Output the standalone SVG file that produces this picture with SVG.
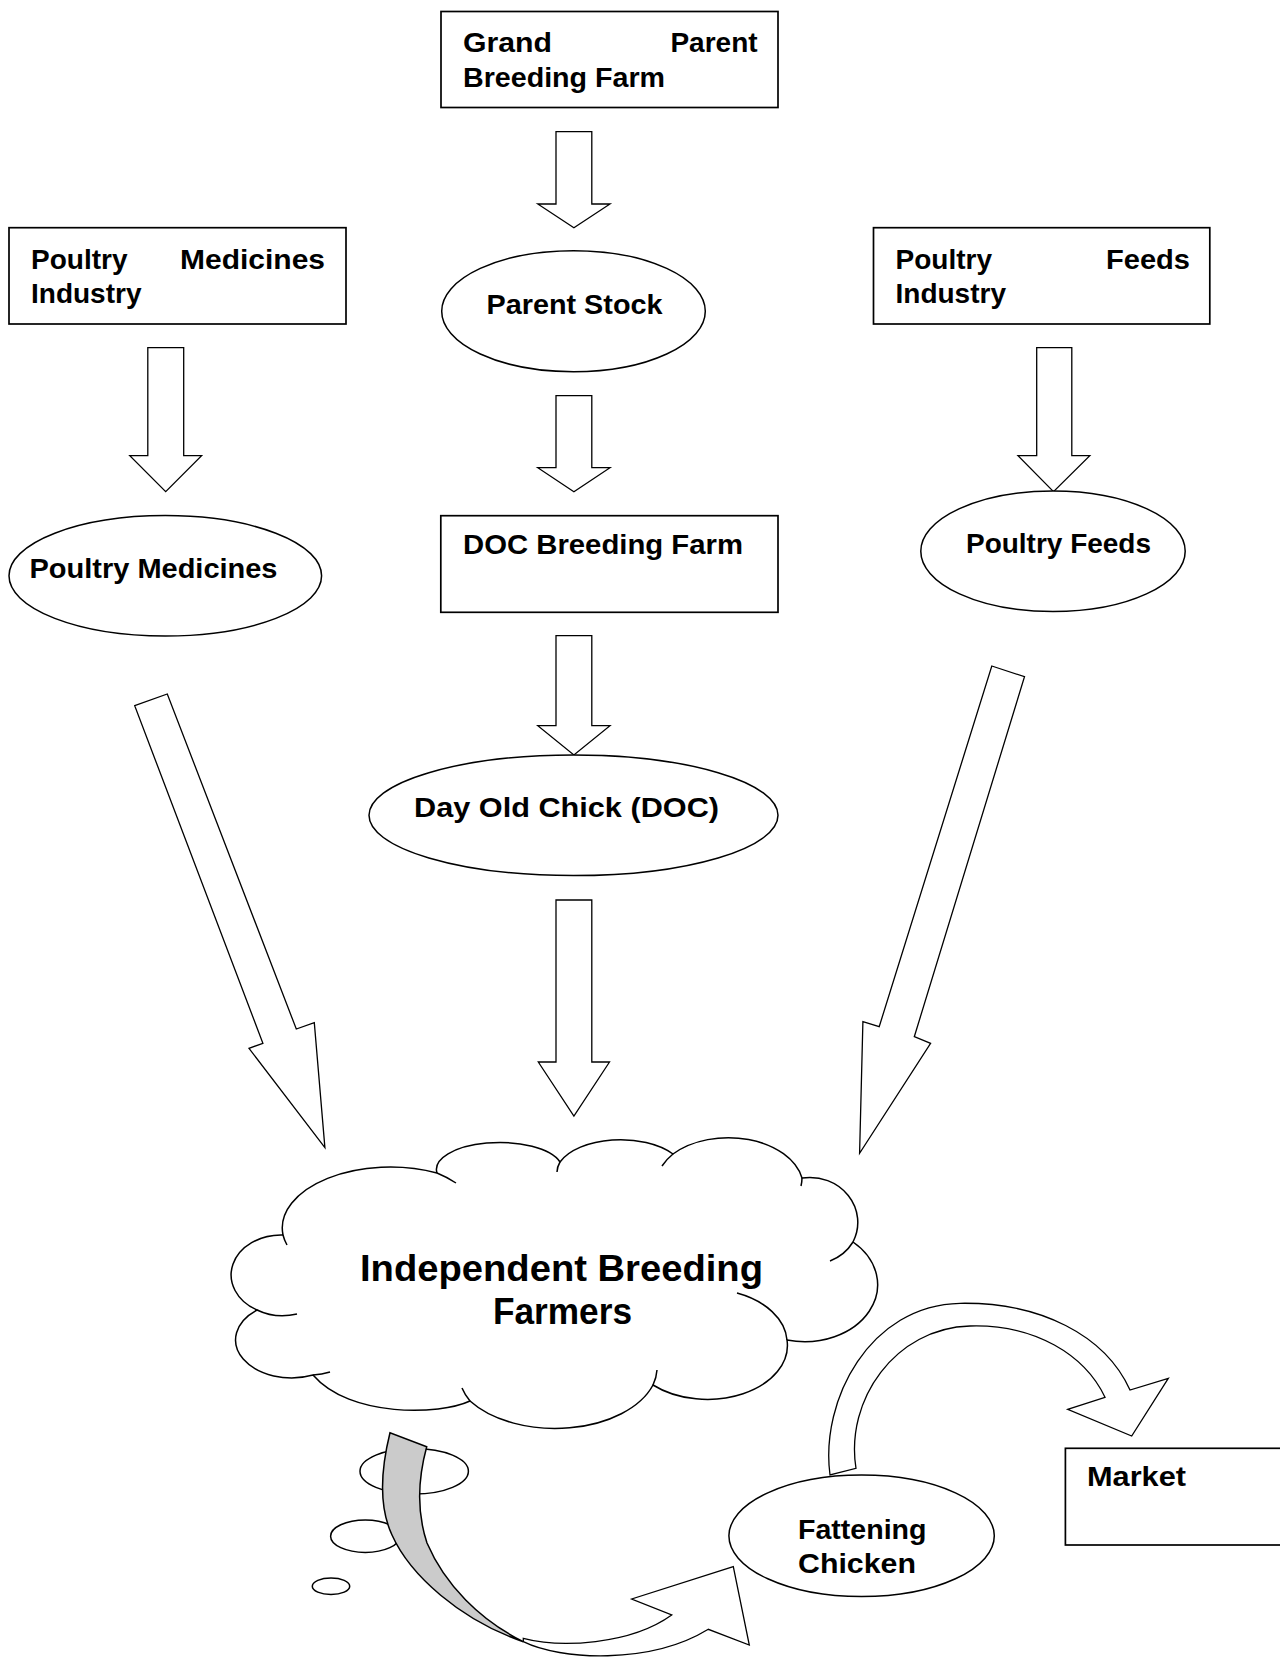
<svg xmlns="http://www.w3.org/2000/svg" width="1280" height="1659" viewBox="0 0 1280 1659">
<style>
.box{fill:#fff;stroke:#000;stroke-width:1.7}
.ell{fill:#fff;stroke:#000;stroke-width:1.5}
.arr{fill:#fff;stroke:#000;stroke-width:1.3;stroke-linejoin:miter}
.crease{fill:none;stroke:#000;stroke-width:1.5}
.t{font-family:"Liberation Sans",Arial,sans-serif;font-weight:bold;font-size:28px;fill:#000}
.tl{font-size:37px}
</style>
<rect width="1280" height="1659" fill="#fff"/>

<g id="connectors">
  <polygon class="arr" points="556,131.7 591.8,131.7 591.8,204 610,204 573.9,227.7 537.8,204 556,204"/>
  <polygon class="arr" points="147.8,347.7 183.7,347.7 183.7,455.7 201.6,455.7 165.7,491.7 129.8,455.7 147.8,455.7"/>
  <polygon class="arr" points="556,395.7 591.8,395.7 591.8,467.7 610,467.7 573.9,491.7 537.8,467.7 556,467.7"/>
  <polygon class="arr" points="1036.7,347.7 1071.8,347.7 1071.8,455.7 1089.8,455.7 1053.5,491.7 1018,455.7 1036.7,455.7"/>
  <polygon class="arr" points="556,635.7 591.8,635.7 591.8,725.7 610,725.7 573.9,755 537.8,725.7 556,725.7"/>
  <polygon class="arr" points="556,900 591.8,900 591.8,1062 609.5,1062 573.9,1116 538.3,1062 556,1062"/>
  <polygon class="arr" points="134.7,705.7 167.3,694 296.3,1029 314.3,1022.7 324.9,1147.7 249,1048.3 262.9,1043.3"/>
  <polygon class="arr" points="991.8,666 1024.5,676.7 914.3,1036.7 930.6,1043.3 859.6,1153.3 862.9,1021.7 879.2,1026.7"/>
  <path class="arr" d="M 830 1475 C 820 1400, 870 1305, 960 1303.3 C 1040 1302, 1105 1335, 1130 1390 L 1168.3 1378.3 L 1131.7 1436 L 1067.7 1409.3 L 1105 1397.3 C 1085 1355, 1035 1324, 970 1326 C 895 1328, 845 1400, 856 1468.3 Z"/>
</g>

<g id="node-grandparent">
  <rect class="box" x="441" y="11.5" width="337" height="96"/>
  <text class="t" x="463" y="52" textLength="89" lengthAdjust="spacingAndGlyphs">Grand</text>
  <text class="t" x="757.6" y="52" text-anchor="end">Parent</text>
  <text class="t" x="463" y="87" textLength="202" lengthAdjust="spacingAndGlyphs">Breeding Farm</text>
</g>

<g id="node-medicines-industry">
  <rect class="box" x="9" y="227.7" width="337" height="96.3"/>
  <text class="t" x="31" y="268.5">Poultry</text>
  <text class="t" x="180" y="268.5" textLength="145" lengthAdjust="spacingAndGlyphs">Medicines</text>
  <text class="t" x="31" y="302.5">Industry</text>
</g>

<g id="node-feeds-industry">
  <rect class="box" x="873.5" y="227.7" width="336.3" height="96.3"/>
  <text class="t" x="895.5" y="268.5">Poultry</text>
  <text class="t" x="1106" y="268.5" textLength="84" lengthAdjust="spacingAndGlyphs">Feeds</text>
  <text class="t" x="895.5" y="302.5">Industry</text>
</g>

<g id="node-parent-stock">
  <ellipse class="ell" cx="573.5" cy="311.2" rx="131.8" ry="60.5"/>
  <text class="t" x="486.5" y="314" textLength="176" lengthAdjust="spacingAndGlyphs">Parent Stock</text>
</g>

<g id="node-poultry-medicines">
  <ellipse class="ell" cx="165.3" cy="575.8" rx="156.3" ry="60.2"/>
  <text class="t" x="29.5" y="578" textLength="248" lengthAdjust="spacingAndGlyphs">Poultry Medicines</text>
</g>

<g id="node-doc-farm">
  <rect class="box" x="440.8" y="515.7" width="337.2" height="96.6"/>
  <text class="t" x="463" y="554" textLength="280" lengthAdjust="spacingAndGlyphs">DOC Breeding Farm</text>
</g>

<g id="node-poultry-feeds">
  <ellipse class="ell" cx="1053" cy="551.3" rx="132.2" ry="60.3"/>
  <text class="t" x="966" y="553" textLength="185" lengthAdjust="spacingAndGlyphs">Poultry Feeds</text>
</g>

<g id="node-doc">
  <ellipse class="ell" cx="573.5" cy="815.3" rx="204.5" ry="60.3"/>
  <text class="t" x="414" y="817" textLength="305" lengthAdjust="spacingAndGlyphs">Day Old Chick (DOC)</text>
</g>

<g id="node-farmers">
  <path class="ell" d="M 283 1235 A 108 61 0 0 1 437 1173 A 63 27 0 0 1 560 1162 A 65 35 0 0 1 673 1154 A 75 50 0 0 1 802 1178 A 48 45 0 0 1 853 1242 A 73 57 0 0 1 787 1340 A 80 54 0 0 1 653 1385 A 103 63 0 0 1 470 1401 C 440 1415, 350 1418, 313 1375 A 56 38 0 0 1 257 1310 A 50 40 0 0 1 283 1235 Z"/>
  <path class="crease" d="M 437 1173 A 108 61 0 0 1 456 1183"/>
  <path class="crease" d="M 287 1245 A 108 61 0 0 1 283 1235"/>
  <path class="crease" d="M 557 1172 A 65 35 0 0 1 560 1162"/>
  <path class="crease" d="M 662 1166 A 75 50 0 0 1 673 1154"/>
  <path class="crease" d="M 802 1178 A 75 50 0 0 1 801 1186"/>
  <path class="crease" d="M 853 1242 A 48 45 0 0 1 830 1261"/>
  <path class="crease" d="M 737 1293 A 80 54 0 0 1 787 1340"/>
  <path class="crease" d="M 657 1370 A 103 63 0 0 1 653 1385"/>
  <path class="crease" d="M 470 1401 A 103 63 0 0 1 462 1388"/>
  <path class="crease" d="M 330 1372 A 56 38 0 0 1 313 1375"/>
  <path class="crease" d="M 297 1314 A 50 40 0 0 1 257 1310"/>
  <text class="t tl" x="360" y="1281" textLength="403" lengthAdjust="spacingAndGlyphs">Independent Breeding</text>
  <text class="t tl" x="493" y="1324" textLength="139" lengthAdjust="spacingAndGlyphs">Farmers</text>
</g>

<g id="thought-bubbles">
  <ellipse class="ell" cx="414.2" cy="1471.2" rx="54.2" ry="22.8"/>
  <ellipse class="ell" cx="365.3" cy="1536.2" rx="34.7" ry="16.2"/>
  <ellipse class="ell" cx="331" cy="1586.3" rx="18.7" ry="8.3"/>
</g>

<g id="curved-arrow">
  <path fill="#cbcbcb" stroke="#000" stroke-width="1.5" stroke-linejoin="miter" d="M 390 1432.7 C 382 1465, 378 1505, 392 1535 C 410 1575, 460 1620, 523.3 1641.7 C 480 1620, 445 1585, 427 1543 C 416 1510, 419 1475, 426.7 1446.7 Z"/>
  <path class="arr" stroke-width="1.5" d="M 523.3 1641.7 C 560 1660, 650 1665, 708.3 1629.3 L 749.3 1645 L 733.3 1566.7 L 631.7 1599 L 671.7 1615 C 630 1645, 560 1648, 523.3 1638.3 Z"/>
</g>

<g id="node-fattening">
  <ellipse class="ell" cx="861.6" cy="1535.8" rx="132.7" ry="60.8"/>
  <text class="t" x="798" y="1539" textLength="128.5" lengthAdjust="spacingAndGlyphs">Fattening</text>
  <text class="t" x="798" y="1573" textLength="118" lengthAdjust="spacingAndGlyphs">Chicken</text>
</g>

<g id="node-market">
  <rect class="box" x="1065.4" y="1448.3" width="230" height="96.7"/>
  <text class="t" x="1087" y="1486" textLength="99" lengthAdjust="spacingAndGlyphs">Market</text>
</g>
</svg>
